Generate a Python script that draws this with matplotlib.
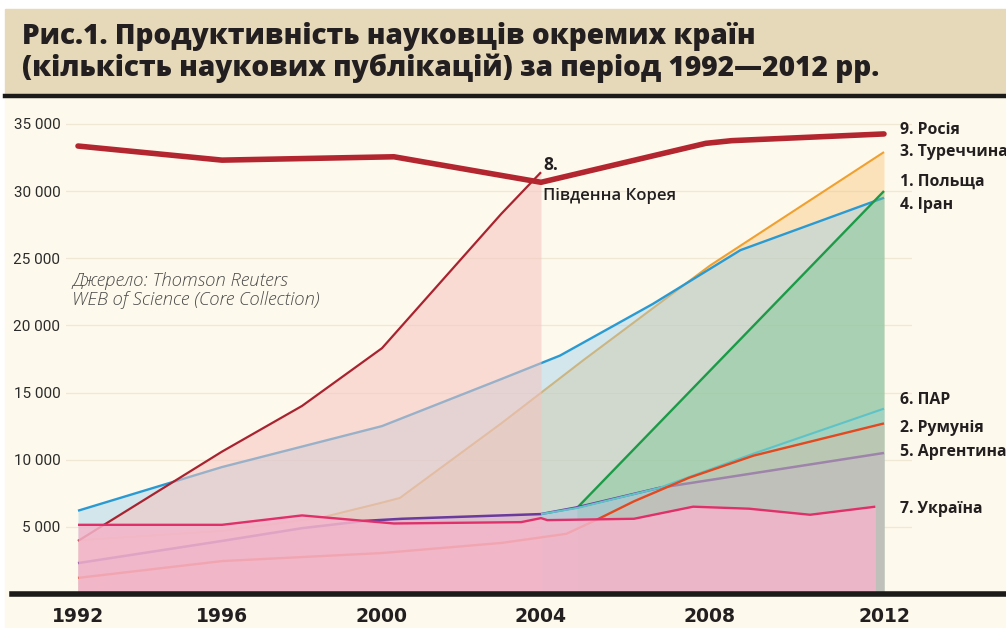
import numpy as np
import matplotlib
matplotlib.use("Agg")
import matplotlib.pyplot as plt
from matplotlib.patches import Rectangle
from matplotlib.lines import Line2D

plt.rcParams['font.family'] = ['Open Sans', 'DejaVu Sans']

# дані (кількість публікацій)
russia_years = [1992, 1996, 2000.3, 2004, 2007.9, 2008.5, 2012]
russia = [33350, 32300, 32550, 30650, 33550, 33750, 34250]

korea_years = [1992, 1996, 1998, 2000, 2003, 2004]
korea = [3950, 10600, 14000, 18300, 28300, 31400]

iran_years = [1992, 1996, 2000, 2003, 2004.45, 2006.65, 2008.7, 2012]
iran = [6200, 9450, 12500, 16000, 17750, 21600, 25600, 29500]

turkey_years = [1992, 1996, 1998.5, 2000, 2000.45, 2003, 2005, 2008, 2012]
turkey = [4000, 4700, 5700, 6800, 7150, 12700, 17400, 24450, 32900]

poland_years = [2004.85, 2012]
poland = [6400, 30000]

sa_years = [2004, 2004.85, 2006.8, 2009, 2012]
sa = [5950, 6400, 7900, 10450, 13800]

argentina_years = [1992, 1996, 1998, 1999.6, 2000.5, 2004, 2004.85, 2006.8, 2012]
argentina = [2300, 3950, 4900, 5450, 5600, 5950, 6450, 7900, 10500]

romania_years = [1992, 1996, 2000, 2003, 2004.6, 2005.3, 2006.2, 2007.5, 2009, 2012]
romania = [1200, 2450, 3050, 3800, 4480, 5500, 6900, 8650, 10300, 12700]

ukraine_years = [1992, 1996, 1998, 2000.3, 2003.5, 2004, 2004.15, 2006.2, 2007.6, 2008.9, 2010.3, 2011.8]
ukraine = [5150, 5150, 5850, 5250, 5350, 5650, 5500, 5600, 6500, 6350, 5900, 6500]

tick_years = [1992, 1996, 2000, 2004, 2008, 2012]
ytick_vals = [5000, 10000, 15000, 20000, 25000, 30000, 35000]
ytick_labels = ['5 000', '10 000', '15 000', '20 000', '25 000', '30 000', '35 000']

labels_right = ['9. Росія', '3. Туреччина', '1. Польща', '4. Іран',
                '6. ПАР', '2. Румунія', '5. Аргентина', '7. Україна']
labels_right_y = [34550, 32900, 30670, 28960, 14440, 12360, 10570, 6330]

title1 = 'Рис.1. Продуктивність науковців окремих країн'
title2 = '(кількість наукових публікацій) за період 1992—2012 рр.'

# на рисунку роки розставлені нерівномірно
anchor_years = [1988, 1992, 1996, 2000, 2004, 2008, 2012, 2016]
anchor_px = [-66, 78, 222, 382, 541, 710, 884, 1058]

def fwd(x):
    return np.interp(x, anchor_years, anchor_px)

def inv(p):
    return np.interp(p, anchor_px, anchor_years)

W, H = 1006, 628
fig = plt.figure(figsize=(W / 100, H / 100), dpi=100, facecolor='white')

cream = '#fdf9ec'
fig.patches.append(Rectangle((5 / W, 0), 1, (H - 97) / H, transform=fig.transFigure,
                             color=cream, zorder=-2))
fig.patches.append(Rectangle((5 / W, (H - 94) / H), 1, 85 / H, transform=fig.transFigure,
                             color='#e6d9ba', zorder=-2))
fig.add_artist(Line2D([5 / W, 1], [(H - 96) / H] * 2, color='#1d1b1a', lw=3.2,
                      transform=fig.transFigure))

fig.text(22 / W, (H - 44) / H, title1, fontsize=20.2, fontweight='heavy',
         color='#231f20', va='baseline')
fig.text(22 / W, (H - 76) / H, title2, fontsize=20.2, fontweight='heavy',
         color='#231f20', va='baseline')

ax = fig.add_axes([66 / W, (H - 594) / H, (912 - 66) / W, (594 - 97) / H])
ax.set_facecolor('none')
ax.set_xscale('function', functions=(fwd, inv))
ax.set_xlim(inv(66), inv(912))
ax.set_ylim(0, 37000)

for v in ytick_vals:
    ax.axhline(v, color='#eee8d4', lw=0.9, zorder=0)

def series(xs, ys, line_c, fill_c, alpha, lw, z):
    ax.fill_between(xs, 0, ys, color=fill_c, alpha=alpha, lw=0, zorder=z)
    ax.plot(xs, ys, color=line_c, lw=lw, zorder=z + 0.5, solid_capstyle='butt')

series(turkey_years, turkey, '#f0a02e', '#f9c77e', 0.45, 1.5, 2)
series(iran_years, iran, '#2a9ad3', '#9fd0ea', 0.45, 1.7, 3)
series(korea_years, korea, '#a8232f', '#f6c4c0', 0.55, 1.6, 4)
series(poland_years, poland, '#1c9a48', '#6fc487', 0.4, 1.7, 5)
series(argentina_years, argentina, '#6a3a9c', '#c9a0dc', 0.35, 1.8, 6)
series(sa_years, sa, '#5ec3c8', '#9ad8da', 0.35, 1.5, 7)
series(romania_years, romania, '#e4481f', '#f2b39a', 0.3, 1.7, 8)
series(ukraine_years, ukraine, '#e0306a', '#f4b6cb', 0.85, 1.7, 9)
ax.plot(russia_years, russia, color='#b3262f', lw=4, zorder=12, solid_capstyle='round')

for s in ax.spines.values():
    s.set_visible(False)
ax.set_xticks(tick_years)
ax.set_xticklabels([str(y) for y in tick_years], family='DejaVu Sans',
                   fontweight='bold', fontsize=13.5, color='#231f20')
ax.set_yticks(ytick_vals)
ax.set_yticklabels(ytick_labels, family='Roboto', fontsize=11, color='#2b2b2b')
ax.tick_params(axis='both', length=0)
ax.tick_params(axis='x', pad=9)
ax.tick_params(axis='y', pad=4)

# нульова лінія
fig.add_artist(Line2D([12 / W, 1], [(H - 594) / H] * 2, color='#1d1b1a', lw=4,
                      transform=fig.transFigure, zorder=20))

lx = inv(900)
for lab, yv in zip(labels_right, labels_right_y):
    ax.text(lx, yv, lab, fontsize=11.4, fontweight='bold', color='#231f20',
            va='center', ha='left', clip_on=False)

ax.text(inv(543), 31940, '8.', fontsize=12.5, fontweight='bold', color='#231f20',
        va='center', ha='left', zorder=15)
ax.text(inv(543), 29630, 'Південна Корея', fontsize=12, fontweight='semibold',
        color='#231f20', va='center', ha='left', zorder=15)

ax.text(inv(72), 23300, 'Джерело: Thomson Reuters', fontsize=13.3, style='italic',
        fontweight='light', color='#4a4a4a', va='center', ha='left')
ax.text(inv(72), 21890, 'WEB of Science (Core Collection)', fontsize=13.3, style='italic',
        fontweight='light', color='#4a4a4a', va='center', ha='left')

fig.savefig('out.png', dpi=100, facecolor=fig.get_facecolor())
